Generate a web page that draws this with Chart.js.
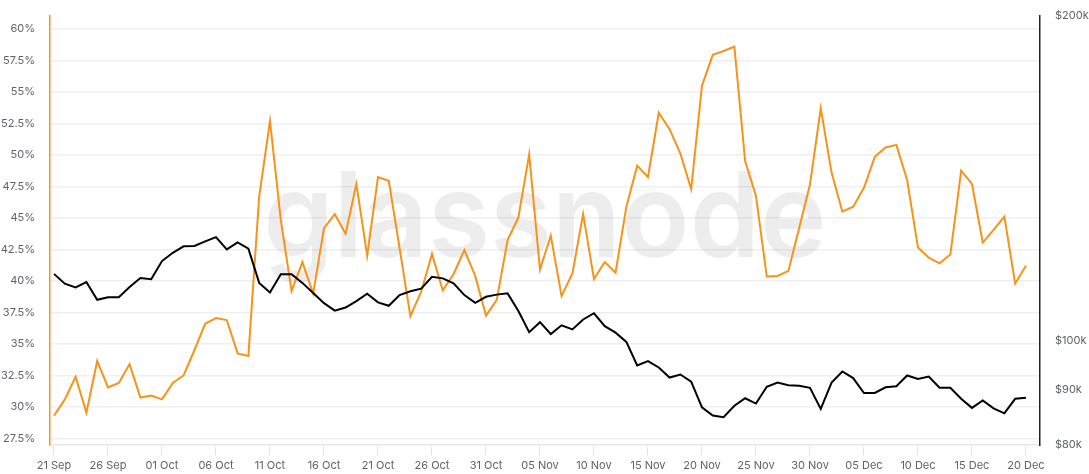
<!DOCTYPE html>
<html>
<head>
<meta charset="utf-8">
<script src="https://cdn.jsdelivr.net/npm/chart.js@4"></script>
<style>
  html, body { margin: 0; padding: 0; background: #ffffff; }
  #wrap { width: 1089px; height: 474px; position: relative; }
</style>
</head>
<body>
<div id="wrap"><canvas id="c" width="1089" height="474"></canvas></div>
<script>
// ---- data ----
const startDate = "2025-09-21";
const dayLabels = (function () {
  const out = [];
  const mon = ["Jan","Feb","Mar","Apr","May","Jun","Jul","Aug","Sep","Oct","Nov","Dec"];
  const d0 = new Date(startDate + "T00:00:00Z");
  for (let i = 0; i < 91; i++) {
    const d = new Date(d0.getTime() + i * 86400000);
    out.push(String(d.getUTCDate()).padStart(2, "0") + " " + mon[d.getUTCMonth()]);
  }
  return out;
})();

const tickDays = [0, 5, 10, 15, 20, 25, 30, 35, 40, 45, 50, 55, 60, 65, 70, 75, 80, 85, 90];

const ratioValues = [
  29.3, 30.6, 32.4, 29.55, 33.65, 31.55, 31.9, 33.4, 30.75, 30.9,
  30.6, 31.9, 32.5, 34.5, 36.6, 37.05, 36.9, 34.25, 34.05, 46.7,
  52.7, 44.85, 39.2, 41.5, 39.0, 44.2, 45.3, 43.75, 47.7, 42.0,
  48.25, 47.95, 42.6, 37.2, 39.15, 42.15, 39.25, 40.55, 42.45, 40.4,
  37.25, 38.5, 43.25, 45.05, 50.05, 40.9, 43.6, 38.8, 40.6, 45.3,
  40.15, 41.5, 40.65, 45.9, 49.15, 48.25, 53.35, 52.05, 50.1, 47.3,
  55.5, 57.95, 58.25, 58.6, 49.5, 46.75, 40.35, 40.4, 40.8, 44.2,
  47.65, 53.7, 48.6, 45.5, 45.9, 47.4, 49.85, 50.6, 50.8, 48.0,
  42.65, 41.85, 41.4, 42.1, 48.75, 47.7, 43.05, 44.05, 45.1, 39.8,
  41.2
];

const priceValues = [
  115300, 112900, 112000, 113300, 109100, 109700, 109700, 112100, 114300, 114000,
  118500, 120600, 122300, 122400, 123600, 124700, 121500, 123300, 121700, 113100,
  110800, 115200, 115200, 113100, 110700, 108300, 106600, 107300, 108800, 110500,
  108500, 107700, 110200, 111100, 111700, 114600, 114200, 113000, 110200, 108400,
  109800, 110300, 110600, 106500, 101800, 104000, 101400, 103300, 102400, 104600,
  106000, 103100, 101700, 99700, 94800, 95700, 94400, 92400, 93000, 91600,
  86700, 85200, 84900, 87000, 88400, 87400, 90600, 91400, 90900, 90800,
  90400, 86400, 91400, 93600, 92300, 89400, 89400, 90500, 90700, 92800,
  92100, 92600, 90400, 90400, 88300, 86600, 88000, 86500, 85600, 88300,
  88500
];

const leftTicks = [27.5, 30, 32.5, 35, 37.5, 40, 42.5, 45, 47.5, 50, 52.5, 55, 57.5, 60];
const rightTicks = [80000, 90000, 100000, 200000];

// ---- chart ----
const watermark = {
  id: "watermark",
  beforeDatasetsDraw(chart) {
    const ctx = chart.ctx;
    const text = "glassnode";
    ctx.save();
    ctx.font = "600 118px Inter, 'Noto Sans', sans-serif";
    ctx.fillStyle = "rgba(0,0,0,0.07)";
    ctx.textAlign = "center";
    ctx.textBaseline = "alphabetic";
    const m = ctx.measureText(text);
    const w = m.actualBoundingBoxLeft + m.actualBoundingBoxRight;
    const sx = 554 / w;
    ctx.translate(545, 257);
    ctx.scale(sx, 1);
    ctx.fillText(text, 0, 0);
    ctx.restore();
  }
};

const labelFont = { family: "Inter, 'Noto Sans', sans-serif", size: 11 };
const labelColor = "#5f6368";

function fixY(width) {
  return function (axis) {
    axis.width = width;
    axis.paddingTop = 0;
    axis.paddingBottom = 0;
  };
}

new Chart(document.getElementById("c"), {
  type: "line",
  data: {
    datasets: [
      {
        label: "BTC Price",
        data: priceValues.map((v, i) => ({ x: i, y: v })),
        yAxisID: "yR",
        borderColor: "#000000",
        borderWidth: 2,
        pointRadius: 0,
        tension: 0,
        order: 1
      },
      {
        label: "Ratio",
        data: ratioValues.map((v, i) => ({ x: i, y: v })),
        yAxisID: "yL",
        borderColor: "#f7931a",
        borderWidth: 2,
        pointRadius: 0,
        tension: 0,
        order: 2
      }
    ]
  },
  plugins: [watermark],
  options: {
    responsive: false,
    animation: false,
    layout: { padding: { top: 16, left: 0, right: 0, bottom: 0 } },
    plugins: { legend: { display: false }, tooltip: { enabled: false } },
    scales: {
      x: {
        type: "linear",
        min: -0.37,
        max: 91.3,
        afterBuildTicks(axis) { axis.ticks = tickDays.map(v => ({ value: v })); },
        afterFit(axis) { axis.height = 29; axis.paddingLeft = 0; axis.paddingRight = 0; },
        ticks: {
          callback: (v) => dayLabels[v],
          font: labelFont,
          color: labelColor,
          padding: 4,
          maxRotation: 0,
          autoSkip: false
        },
        grid: { drawOnChartArea: false, drawTicks: true, tickLength: 10, color: "#e2e2e2", lineWidth: 1 },
        border: { color: "#e8e8e8", width: 1.5 }
      },
      yL: {
        type: "linear",
        position: "left",
        min: 26.98,
        max: 61.03,
        afterBuildTicks(axis) { axis.ticks = leftTicks.map(v => ({ value: v })); },
        afterFit: fixY(50),
        ticks: {
          callback: (v) => v + "%",
          font: labelFont,
          color: labelColor,
          padding: 15
        },
        grid: { drawTicks: false, color: "#efefef", lineWidth: 1.5 },
        border: { color: "#f7931a", width: 1.5 }
      },
      yR: {
        type: "logarithmic",
        position: "right",
        min: 80000,
        max: 200000,
        afterBuildTicks(axis) { axis.ticks = rightTicks.map(v => ({ value: v })); },
        afterFit: fixY(49),
        ticks: {
          callback: (v) => "$" + Math.round(v / 1000) + "k",
          font: labelFont,
          color: labelColor,
          padding: 15
        },
        grid: { drawOnChartArea: false, drawTicks: false },
        border: { color: "#222222", width: 1.5 }
      }
    }
  }
});
</script>
</body>
</html>
